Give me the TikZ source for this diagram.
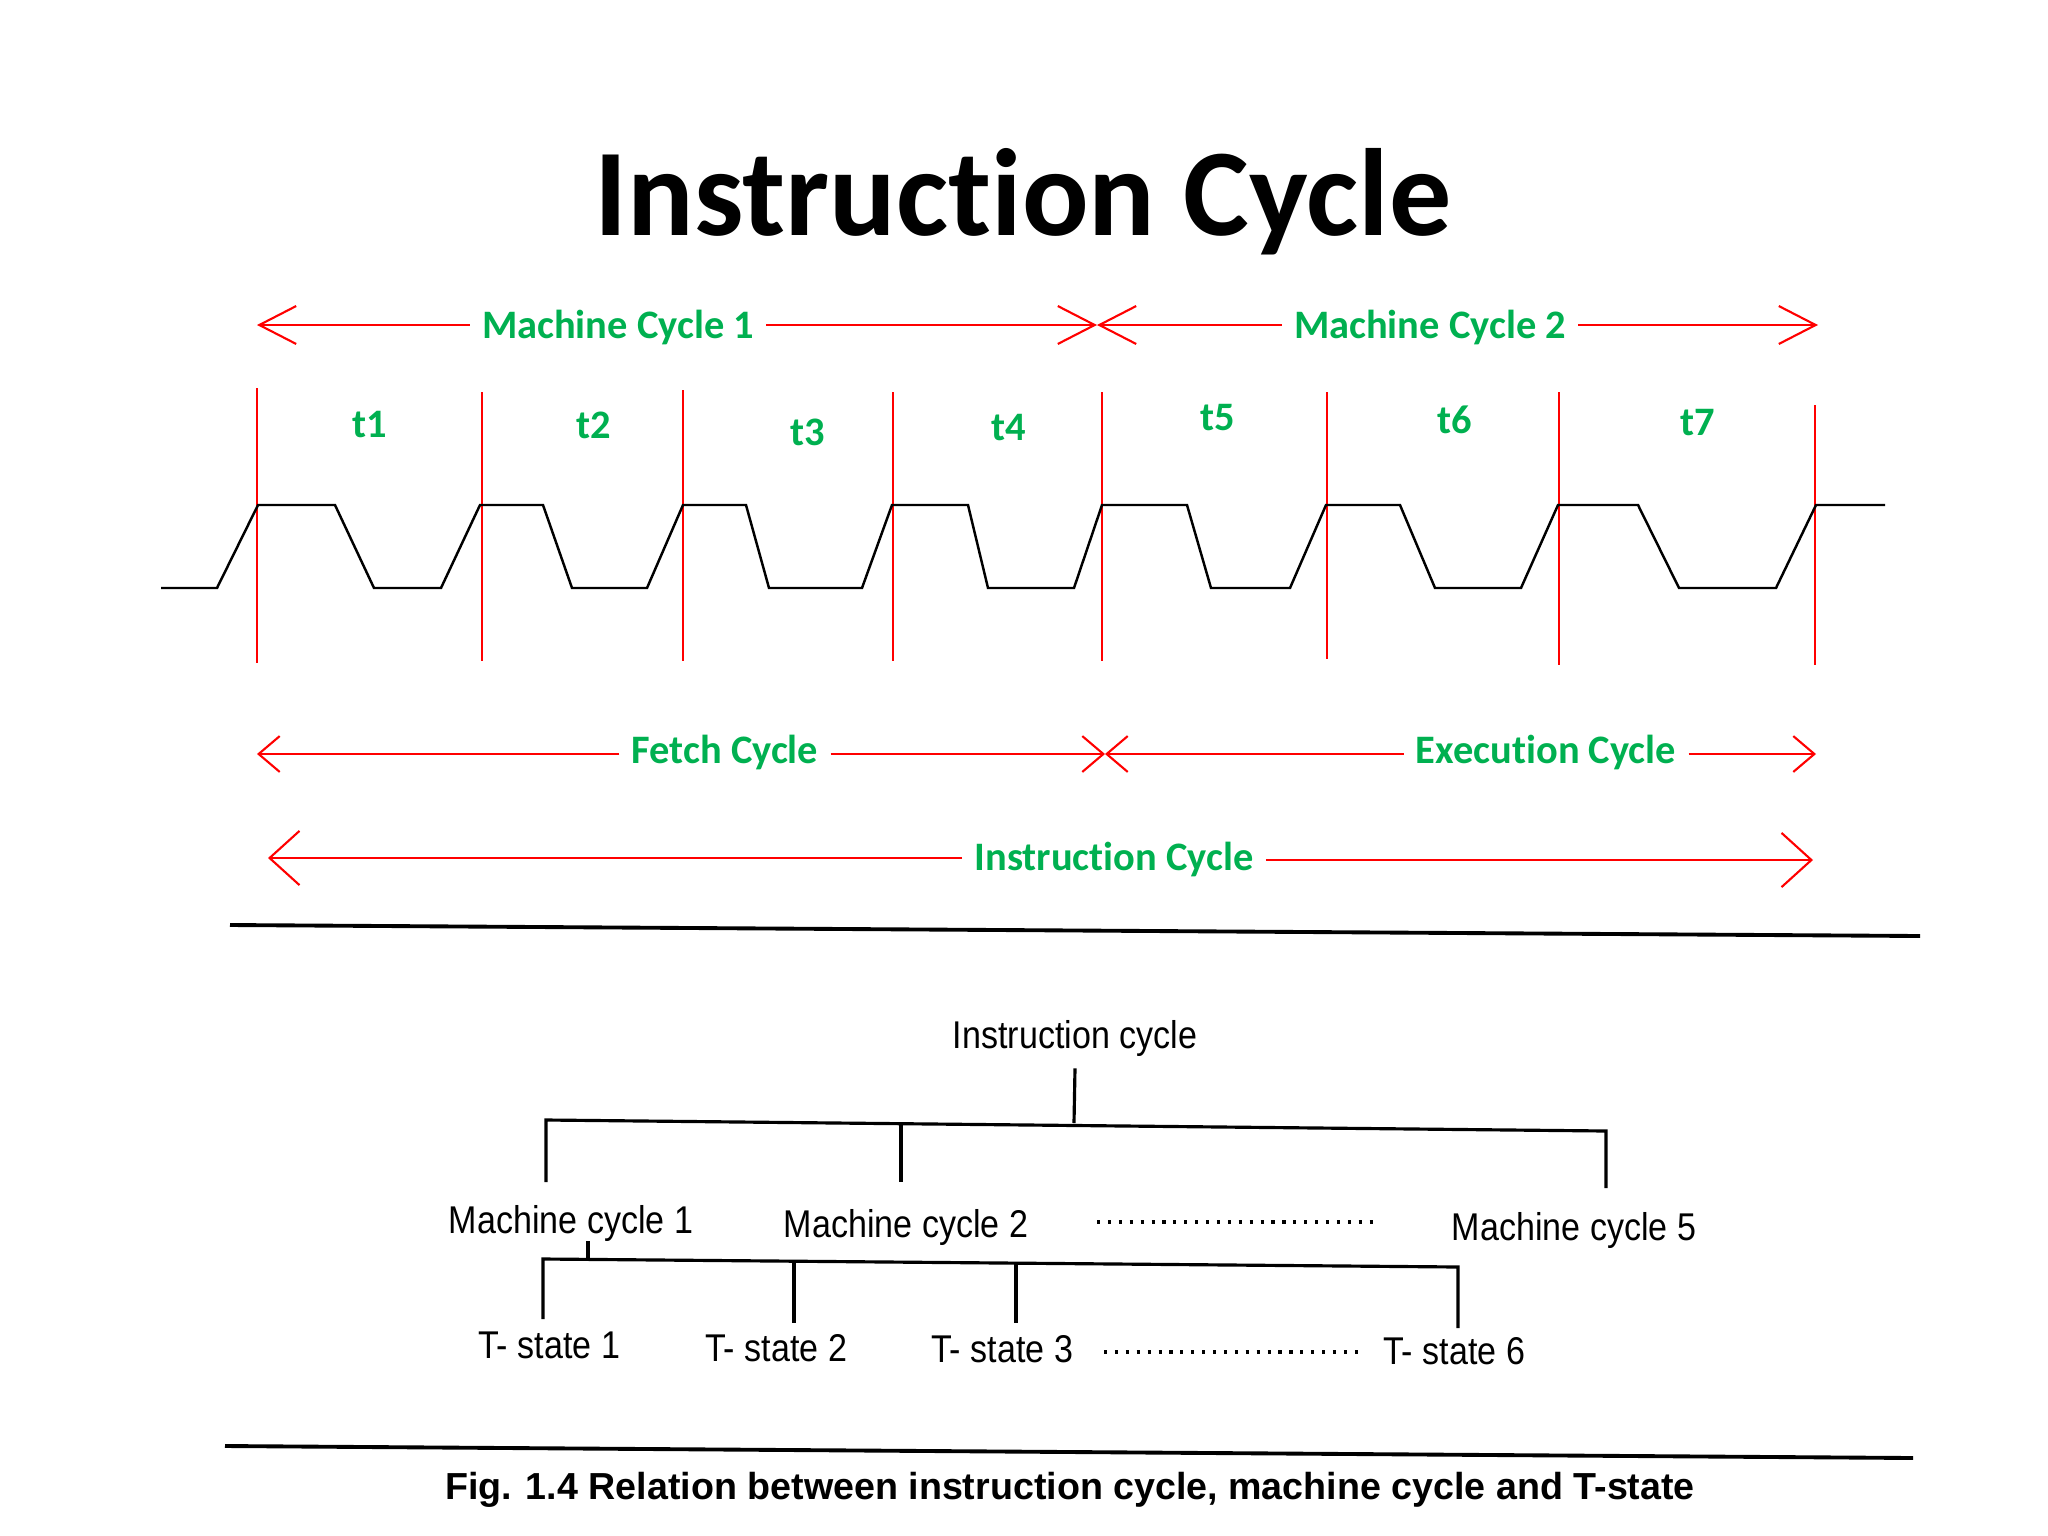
\documentclass[tikz,border=0pt]{standalone}
\usepackage{fontspec}
\setmainfont{Carlito}[Ligatures=NoCommon]
\newfontfamily\scanfont{Liberation Sans}[FakeStretch=0.88]
\newfontfamily\capfont{Liberation Sans}
\usetikzlibrary{arrows.meta}
\definecolor{labgreen}{RGB}{0,176,80}

\begin{document}
\begin{tikzpicture}[x=0.01cm,y=-0.01cm,
  lab/.style={text=labgreen,font=\bfseries\fontsize{11.5}{14}\selectfont,anchor=base},
  mcarrow/.style={red,line width=0.6pt,-{Straight Barb[length=10.5pt,width=10.8pt]}},
  fcarrow/.style={red,line width=0.6pt,-{Straight Barb[length=6pt,width=10.2pt]}},
  icarrow/.style={red,line width=0.6pt,-{Straight Barb[length=8.5pt,width=15.4pt]}},
  tick/.style={red,line width=0.45pt},
  wave/.style={black,line width=0.7pt},
  scan/.style={font=\scanfont\fontsize{11}{13}\selectfont,anchor=base},
  treeline/.style={black,line width=0.9pt},
  dotrow/.style={black,line width=0.9pt,dash pattern=on 0.9pt off 2.2pt},
  rule/.style={black,line width=1.1pt}]
\useasboundingbox (0,0) rectangle (2048,1536);

\node[font=\bfseries\fontsize{35.3}{40}\selectfont,anchor=base] (title) at (1023,235) {Instruction Cycle};

\coordinate (m1l) at (257,325);
\coordinate (mx) at (1097,325);
\coordinate (m2r) at (1818,325);
\node[lab] (mc1) at (618,338) {Machine Cycle 1};
\node[lab] (mc2) at (1430,338) {Machine Cycle 2};
\draw[mcarrow] (mc1.west |- m1l) -- (m1l);
\draw[mcarrow] (mc1.east |- mx) -- (mx);
\draw[mcarrow] (mc2.west |- mx) -- (mx);
\draw[mcarrow] (mc2.east |- m2r) -- (m2r);

\node[lab] (t1) at (370,437) {t1};
\node[lab] (t2) at (594,438) {t2};
\node[lab] (t3) at (808,445) {t3};
\node[lab] (t4) at (1009,440) {t4};
\node[lab] (t5) at (1218,430) {t5};
\node[lab] (t6) at (1455,433) {t6};
\node[lab] (t7) at (1698,435) {t7};

\draw[tick] (257,388) -- (257,663);
\draw[tick] (482,392) -- (482,661);
\draw[tick] (683,390) -- (683,661);
\draw[tick] (893,392) -- (893,661);
\draw[tick] (1102,392) -- (1102,661);
\draw[tick] (1327,392) -- (1327,659);
\draw[tick] (1559,392) -- (1559,665);
\draw[tick] (1815,405) -- (1815,665);

\draw[wave] (161,588) -- (217,588) -- (258,505) -- (335,505) -- (374,588) -- (441,588)
  -- (480,505) -- (543,505) -- (572,588) -- (647,588) -- (683,505) -- (746,505)
  -- (769,588) -- (862,588) -- (892,505) -- (968,505) -- (988,588) -- (1074,588)
  -- (1102,505) -- (1187,505) -- (1211,588) -- (1290,588) -- (1326,505) -- (1400,505)
  -- (1435,588) -- (1521,588) -- (1558,505) -- (1638,505) -- (1679,588) -- (1776,588)
  -- (1816,505) -- (1885,505);

\coordinate (f1l) at (257,754);
\coordinate (fx) at (1105,754);
\coordinate (e1r) at (1816,754);
\node[lab] (fc) at (725,763) {Fetch Cycle};
\node[lab] (ec) at (1546,763) {Execution Cycle};
\draw[fcarrow] (fc.west |- f1l) -- (f1l);
\draw[fcarrow] (fc.east |- fx) -- (fx);
\draw[fcarrow] (ec.west |- fx) -- (fx);
\draw[fcarrow] (ec.east |- e1r) -- (e1r);

\coordinate (i1l) at (268,858);
\coordinate (i1r) at (1813,860);
\node[lab] (icy) at (1114,870) {Instruction Cycle};
\draw[icarrow] (icy.west |- i1l) -- (i1l);
\draw[icarrow] (icy.east |- i1r) -- (i1r);

\draw[rule] (230,925) -- (1920,936);
\draw[rule] (225,1446) -- (1913,1458);

\node[scan] (ic) at (1075,1048) {Instruction cycle};
\node[scan] (mcy1) at (571,1233) {Machine cycle 1};
\node[scan] (mcy2) at (906,1237) {Machine cycle 2};
\node[scan] (mcy5) at (1574,1240) {Machine cycle 5};
\node[scan] (ts1) at (549,1358) {T- state 1};
\node[scan] (ts2) at (776,1361) {T- state 2};
\node[scan] (ts3) at (1002,1362) {T- state 3};
\node[scan] (ts6) at (1454,1364) {T- state 6};
\node[scan,font=\capfont\bfseries\fontsize{10.7}{13}\selectfont] (cap) at (1070,1499) {Fig. 1.4 Relation between instruction cycle, machine cycle and T-state};

\coordinate (s1) at (1074,1123);
\coordinate (b1) at (546,1120);
\coordinate (b2) at (901,1124);
\coordinate (b5) at (1606,1131);
\coordinate (d1) at (546,1182);
\coordinate (d2) at (901,1182);
\coordinate (d5) at (1606,1188);
\draw[treeline] (ic.south) -- (s1);
\draw[treeline] (d1) -- (b1) -- (b5) -- (d5);
\draw[treeline] (b2) -- (d2);

\coordinate (c1) at (588,1241);
\coordinate (c2) at (588,1260);
\coordinate (u1) at (543,1259);
\coordinate (u2) at (794,1261);
\coordinate (u3) at (1016,1263);
\coordinate (u6) at (1458,1267);
\coordinate (w1) at (543,1319);
\coordinate (w2) at (794,1323);
\coordinate (w3) at (1016,1323);
\coordinate (w6) at (1458,1328);
\draw[treeline] (c1) -- (c2);
\draw[treeline] (w1) -- (u1) -- (u6) -- (w6);
\draw[treeline] (u2) -- (w2);
\draw[treeline] (u3) -- (w3);

\coordinate (p1) at (1097,1222);
\coordinate (p2) at (1379,1222);
\coordinate (q1) at (1104,1352);
\coordinate (q2) at (1362,1352);
\draw[dotrow] (p1) -- (p2);
\draw[dotrow] (q1) -- (q2);
\end{tikzpicture}
\end{document}
